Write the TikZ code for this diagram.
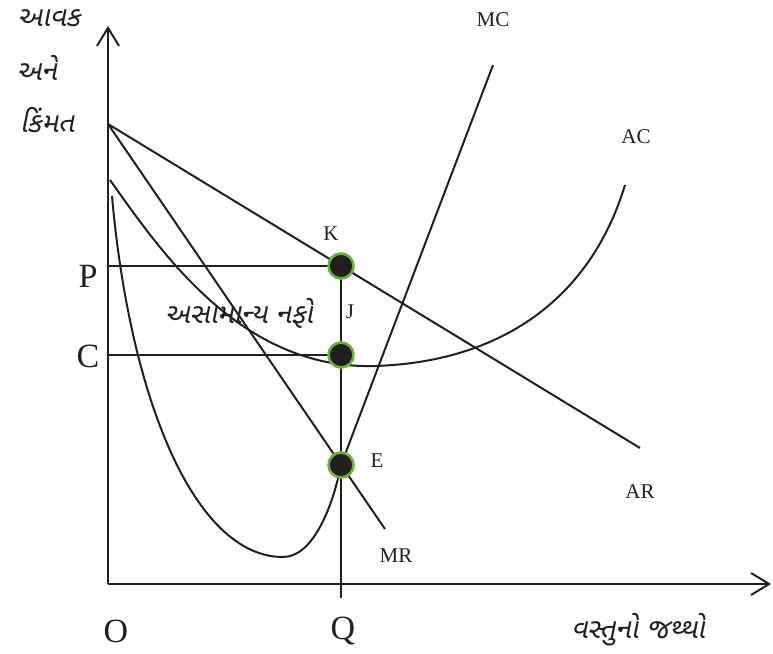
\documentclass[tikz,border=0pt]{standalone}
\usepackage{fontspec}
\setmainfont{Liberation Serif}
\newfontfamily\guj[Script=Gujarati,FakeSlant=0.2]{Noto Sans Gujarati UI}
\usetikzlibrary{arrows.meta}
\definecolor{dotgreen}{RGB}{108,176,62}
\definecolor{ink}{RGB}{35,31,32}
\tikzset{
  curveline/.style={line width=2pt, draw=ink},
  axisline/.style={line width=2.6pt, draw=ink, -{Straight Barb[length=18pt,width=22pt,line width=2pt]}},
  guide/.style={line width=1.8pt, draw=ink},
  eqdot/.style={circle, fill=ink, draw=dotgreen, line width=2.6pt, minimum size=25pt, inner sep=0pt},
  small/.style={font=\fontsize{21}{21}\selectfont, text=ink, inner sep=0pt},
  big/.style={font=\fontsize{34}{34}\selectfont, text=ink, inner sep=0pt},
  gtext/.style={font=\guj\fontsize{28}{28}\selectfont, text=ink, inner sep=0pt}
}
\begin{document}
\begin{tikzpicture}[x=1pt,y=-1pt]
\useasboundingbox (0,0) rectangle (773,653);
% coordinates
\coordinate (O) at (108,584);
\coordinate (ytop) at (108,26);
\coordinate (xend) at (771,584);
\coordinate (A) at (108,124);
\coordinate (ARend) at (640,448);
\coordinate (MRend) at (385,529);
\coordinate (K) at (341,266);
\coordinate (J) at (341,355);
\coordinate (E) at (341,465);
\coordinate (Qb) at (341,598);
\coordinate (Py) at (108,266);
\coordinate (Cy) at (108,355);
\coordinate (MCtop) at (493,65);
\coordinate (ACs) at (110,180);
\coordinate (ACmin) at (375,366);
\coordinate (ACend) at (625,185);
\coordinate (MCs) at (112,196);
\coordinate (MCmin) at (283,557);
% axes
\draw[axisline] (O) -- (ytop);
\draw[axisline] (O) -- (xend);
% AR and MR
\draw[curveline] (A) -- (ARend);
\draw[curveline] (A) -- (MRend);
% guides
\draw[guide] (Py) -- (K);
\draw[guide] (Cy) -- (J);
\draw[guide] (K) -- (Qb);
% AC curve
\draw[curveline] (ACs) .. controls (160,250) and (240,370) .. (ACmin)
                       .. controls (500,362) and (590,300) .. (ACend);
% MC curve
\draw[curveline] (MCs) .. controls (130,400) and (195,557) .. (MCmin)
                       .. controls (312,557) and (332,510) .. (E) -- (MCtop);
% dots
\node[eqdot] (k) at (K) {};
\node[eqdot] (j) at (J) {};
\node[eqdot] (e) at (E) {};
% labels
\node[small] (lK) at (331,234) {K};
\node[small] (lJ) at (350,312) {J};
\node[small] (lE) at (377,461) {E};
\node[small] (lMC) at (493,20) {MC};
\node[small] (lAC) at (636,137) {AC};
\node[small] (lAR) at (640,492) {AR};
\node[small] (lMR) at (396,556) {MR};
\node[big] (lP) at (88,276) {P};
\node[big] (lC) at (88,356) {C};
\node[big] (lO) at (116,631) {O};
\node[big] (lQ) at (343,631) {Q};
\node[gtext] (g1) at (49,18) {આવક};
\node[gtext] (g2) at (37,68) {અને};
\node[gtext] (g3) at (47,120) {કિંમત};
\node[gtext] (g4) at (239,313) {અસામાન્ય નફો};
\node[gtext] (g5) at (638,630) {વસ્તુનો જથ્થો};
\end{tikzpicture}
\end{document}
